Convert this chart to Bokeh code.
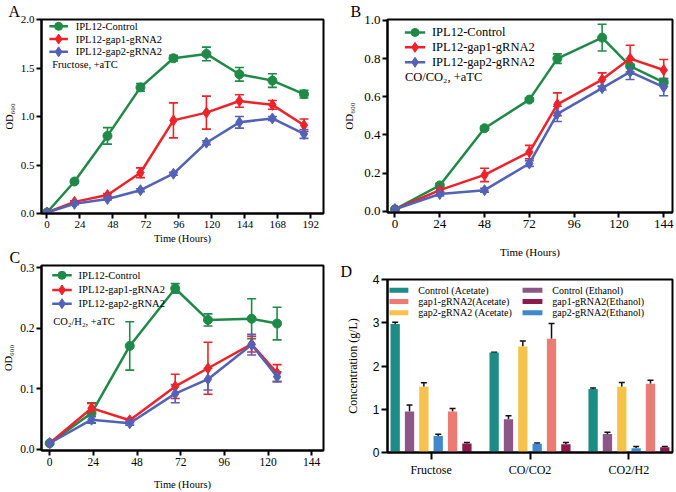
from bokeh.plotting import figure
from bokeh.models import (Range1d, FactorRange, FixedTicker, Whisker, TeeHead,
                          ColumnDataSource, NumeralTickFormatter)
from bokeh.layouts import row, column
from bokeh.transform import dodge
from bokeh.core.properties import value
from bokeh.embed import file_html
from bokeh.resources import INLINE

# ---------------- data ----------------
series_names = ["IPL12-Control", "IPL12-gap1-gRNA2", "IPL12-gap2-gRNA2"]

# Panel A (Fructose)
a_time = [0, 20, 44, 68, 92, 116, 140, 164, 187]
a_ctrl = [0.01, 0.33, 0.80, 1.30, 1.60, 1.645, 1.435, 1.37, 1.23]
a_ctrl_err = [0, 0.012, 0.085, 0.04, 0.03, 0.07, 0.07, 0.07, 0.04]
a_gap1 = [0.01, 0.12, 0.19, 0.42, 0.96, 1.04, 1.16, 1.12, 0.91]
a_gap1_err = [0, 0.01, 0.015, 0.05, 0.18, 0.17, 0.065, 0.045, 0.065]
a_gap2 = [0.01, 0.10, 0.15, 0.24, 0.41, 0.73, 0.94, 0.98, 0.82]
a_gap2_err = [0, 0.01, 0.01, 0.015, 0.015, 0.02, 0.06, 0.02, 0.045]

# Panel B (CO/CO2)
b_time = [0, 24, 48, 72, 87, 111, 126, 144]
b_ctrl = [0.01, 0.135, 0.435, 0.585, 0.80, 0.91, 0.76, 0.675]
b_ctrl_err = [0, 0.01, 0.01, 0.01, 0.025, 0.07, 0.04, 0.02]
b_gap1 = [0.01, 0.11, 0.19, 0.31, 0.56, 0.69, 0.80, 0.74]
b_gap1_err = [0, 0.01, 0.035, 0.035, 0.06, 0.035, 0.07, 0.055]
b_gap2 = [0.01, 0.09, 0.11, 0.25, 0.51, 0.645, 0.73, 0.65]
b_gap2_err = [0, 0.01, 0.01, 0.015, 0.04, 0.01, 0.04, 0.045]

# Panel C (CO2/H2)
c_time = [0, 23, 44, 69, 87, 111, 125]
c_ctrl = [0.01, 0.060, 0.171, 0.266, 0.214, 0.216, 0.208]
c_ctrl_err = [0, 0.017, 0.04, 0.008, 0.01, 0.033, 0.027]
c_gap1 = [0.01, 0.068, 0.048, 0.104, 0.134, 0.174, 0.126]
c_gap1_err = [0, 0.008, 0.003, 0.02, 0.043, 0.013, 0.014]
c_gap2 = [0.01, 0.049, 0.043, 0.092, 0.116, 0.173, 0.12]
c_gap2_err = [0, 0.005, 0.003, 0.015, 0.018, 0.017, 0.008]

# Panel D (products)
d_groups = ["Fructose", "CO/CO2", "CO2/H2"]
d_names = ["Control (Acetate)", "Control (Ethanol)", "gap2-gRNA2 (Acetate)",
           "gap2-gRNA2(Ethanol)", "gap1-gRNA2(Acetate)", "gap1-gRNA2(Ethanol)"]
d_ctrl_ac = [2.97, 2.31, 1.47]
d_ctrl_ac_err = [0.04, 0.01, 0.02]
d_ctrl_et = [0.95, 0.77, 0.43]
d_ctrl_et_err = [0.15, 0.08, 0.04]
d_gap2_ac = [1.52, 2.45, 1.52]
d_gap2_ac_err = [0.09, 0.13, 0.10]
d_gap2_et = [0.38, 0.20, 0.10]
d_gap2_et_err = [0.04, 0.02, 0.04]
d_gap1_ac = [0.95, 2.63, 1.59]
d_gap1_ac_err = [0.07, 0.35, 0.08]
d_gap1_et = [0.21, 0.19, 0.12]
d_gap1_et_err = [0.02, 0.04, 0.02]

# ---------------- styling ----------------
SERIF = "Liberation Serif"
SANS = "Liberation Sans"
LINE_COLORS = ["#1f8a47", "#ee2229", "#5361b6"]
MARKERS = ["circle", "diamond", "diamond"]
MSIZE = [9, 11, 11]
BAR_COLORS = ["#1b8c86", "#8a5787", "#f6c24c", "#3f89cb", "#ec7b74", "#8c1a4a"]


def conv(frame, xr, yr):
    L, T, R, B = frame
    def X(px):
        return xr[0] + (px - L) / (R - L) * (xr[1] - xr[0])
    def Y(py):
        return yr[1] - (py - T) / (B - T) * (yr[1] - yr[0])
    return X, Y


def base_fig(w, h, frame, xr, yr, letter, letter_x):
    L, T, R, B = frame
    p = figure(width=w, height=h, x_range=xr, y_range=yr,
               output_backend="svg", toolbar_location=None,
               min_border_left=L, min_border_top=T,
               min_border_right=w - R, min_border_bottom=h - B)
    p.grid.visible = False
    p.outline_line_color = "black"
    p.outline_line_width = 2
    p.outline_line_alpha = 1
    p.background_fill_color = "white"
    p.border_fill_color = "white"
    # panel letter as the plot title, pushed into the left border
    p.title.text = letter
    p.title.text_font = SERIF
    p.title.text_font_size = "16px"
    p.title.text_font_style = "normal"
    p.title.text_color = "black"
    p.title.text_line_height = 0.7
    p.title.align = "left"
    p.title.offset = letter_x - L
    p.title.standoff = 0
    return p


def style_axes(p, tick_font, tick_fs, label_fs, tick_out=5):
    for ax in p.axis:
        ax.axis_line_width = 2
        ax.axis_line_color = "black"
        ax.major_tick_line_width = 2
        ax.major_tick_line_color = "black"
        ax.major_tick_in = 0
        ax.major_tick_out = tick_out
        ax.minor_tick_line_color = None
        ax.major_label_text_font = tick_font
        ax.major_label_text_font_size = tick_fs
        ax.major_label_text_color = "black"
        ax.major_label_standoff = 2
        ax.axis_label_text_font = SERIF
        ax.axis_label_text_font_style = "normal"
        ax.axis_label_text_font_size = label_fs
        ax.axis_label_text_color = "black"


def line_panel(w, h, frame, xr, yr, xticks, yticks, time, ys, errs,
               tick_fs, label_fs, leg_fs, leg, cond_text, letter, letter_x,
               xlabel_standoff, ylabel_standoff):
    p = base_fig(w, h, frame, Range1d(*xr), Range1d(*yr), letter, letter_x)
    X, Y = conv(frame, xr, yr)
    p.xaxis.ticker = FixedTicker(ticks=xticks)
    p.yaxis.ticker = FixedTicker(ticks=yticks)
    p.yaxis.formatter = NumeralTickFormatter(format="0.0")
    p.xaxis.axis_label = "Time (Hours)"
    p.yaxis.axis_label = "OD\u2086\u2080\u2080"
    style_axes(p, SERIF, tick_fs, label_fs)
    p.xaxis.axis_label_standoff = xlabel_standoff
    p.yaxis.axis_label_standoff = ylabel_standoff

    for i in range(3):
        col = LINE_COLORS[i]
        xs = [t for t, e in zip(time, errs[i]) if e > 0]
        lo = [v - e for v, e in zip(ys[i], errs[i]) if e > 0]
        hi = [v + e for v, e in zip(ys[i], errs[i]) if e > 0]
        src = ColumnDataSource(dict(x=xs, lo=lo, hi=hi))
        wk = Whisker(source=src, base="x", lower="lo", upper="hi",
                     line_color=col, line_width=1.6, level="underlay",
                     upper_head=TeeHead(size=9, line_color=col, line_width=1.6),
                     lower_head=TeeHead(size=9, line_color=col, line_width=1.6))
        p.add_layout(wk)
    for i in range(3):
        col = LINE_COLORS[i]
        p.line(time, ys[i], line_color=col, line_width=2.5)
        p.scatter(time, ys[i], marker=MARKERS[i], size=MSIZE[i],
                  fill_color=col, line_color=col)

    # legend drawn in the frame
    gx0, gx1, tx, rows, cx, cy = leg
    for i in range(3):
        col = LINE_COLORS[i]
        yy = Y(rows[i])
        p.line([X(gx0), X(gx1)], [yy, yy], line_color=col, line_width=2.5)
        p.scatter([X((gx0 + gx1) / 2)], [yy], marker=MARKERS[i],
                  size=MSIZE[i] - 1, fill_color=col, line_color=col)
        p.text([X(tx)], [yy], text=[series_names[i]], text_font=value(SERIF),
               text_font_size=leg_fs, text_baseline="middle", text_align="left",
               text_color="black")
    p.text([X(cx)], [Y(cy)], text=[cond_text], text_font=value(SERIF),
           text_font_size=leg_fs, text_baseline="middle", text_align="left",
           text_color="black")
    return p


# Panel A
pA = line_panel(338, 246, (35, 16, 323, 214), (-4.0, 201.2), (0.0, 2.0),
                list(range(0, 193, 24)), [0, 0.5, 1.0, 1.5, 2.0],
                a_time, [a_ctrl, a_gap1, a_gap2], [a_ctrl_err, a_gap1_err, a_gap2_err],
                "11px", "10.5px", "10.5px",
                (43, 62, 70, [23, 36, 49], 46, 62), "Fructose, +aTC",
                "A", 2, 2, 3)

# Panel B
pB = line_panel(338, 260, (39, 18, 334, 212), (-4.0, 148.7), (-0.007, 1.005),
                list(range(0, 145, 24)), [0, 0.2, 0.4, 0.6, 0.8, 1.0],
                b_time, [b_ctrl, b_gap1, b_gap2], [b_ctrl_err, b_gap1_err, b_gap2_err],
                "13px", "11px", "12.5px",
                (57, 78, 85, [31, 46, 61], 57, 76), "CO/CO\u2082, +aTC",
                "B", 2, 15, 6)

# Panel C
pC = line_panel(338, 246, (34, 16, 323, 205), (-4.5, 150.5), (-0.002, 0.304),
                list(range(0, 145, 24)), [0, 0.1, 0.2, 0.3],
                c_time, [c_ctrl, c_gap1, c_gap2], [c_ctrl_err, c_gap1_err, c_gap2_err],
                "11.5px", "10.5px", "10.5px",
                (45, 65, 72, [26, 41, 55], 46, 73), "CO\u2082/H\u2082, +aTC",
                "C", 2, 10, 3)

# Panel D
d_frame = (49, 15, 336, 192)
d_pad = -0.04
half = len(d_groups) * d_pad / 2
d_xr = (0 - half, len(d_groups) + half)
d_yr = (0, 4)
pD = base_fig(338, 232, d_frame, FactorRange(factors=d_groups, range_padding=d_pad),
              Range1d(*d_yr), "D", 2)
XD, YD = conv(d_frame, d_xr, d_yr)
pD.yaxis.ticker = FixedTicker(ticks=[0, 1, 2, 3, 4])
pD.yaxis.axis_label = "Concentration (g/L)"
style_axes(pD, SERIF, "12px", "12px", tick_out=7)
pD.yaxis.major_label_text_font = SANS
pD.yaxis.major_label_text_font_size = "12px"
pD.yaxis.major_tick_out = 6
pD.yaxis.axis_label_standoff = 10
pD.xaxis.major_label_standoff = 3

d_vals = [d_ctrl_ac, d_ctrl_et, d_gap2_ac, d_gap2_et, d_gap1_ac, d_gap1_et]
d_errs = [d_ctrl_ac_err, d_ctrl_et_err, d_gap2_ac_err, d_gap2_et_err, d_gap1_ac_err, d_gap1_et_err]
step = 0.145
for i in range(6):
    off = (i - 2.5) * step
    src = ColumnDataSource(dict(g=d_groups, top=d_vals[i],
                                up=[v + e for v, e in zip(d_vals[i], d_errs[i])]))
    pD.add_layout(Whisker(source=src, base=dodge("g", off, range=pD.x_range),
                          lower="top", upper="up", line_color="#111111", line_width=1.5,
                          level="underlay", lower_head=None,
                          upper_head=TeeHead(size=6, line_color="#111111", line_width=1.5)))
    pD.vbar(x=dodge("g", off, range=pD.x_range), top="top", bottom=0, width=0.094,
            source=src, fill_color=BAR_COLORS[i], line_color=None)

# legend for D (two columns)
leg_cols = [(51, 70, 80), (185, 205, 215)]
leg_rows = [26, 37.5, 49]
leg_layout = [[0, 4, 2], [1, 5, 3]]
for c in range(2):
    x0, x1, tx = leg_cols[c]
    for r in range(3):
        k = leg_layout[c][r]
        yy = YD(leg_rows[r])
        pD.quad(left=[XD(x0)], right=[XD(x1)], top=[YD(leg_rows[r] - 2.5)],
                bottom=[YD(leg_rows[r] + 2.5)], fill_color=BAR_COLORS[k], line_color=None)
        pD.text([XD(tx)], [yy], text=[d_names[k]], text_font=value(SERIF),
                text_font_size="10px", text_baseline="middle", text_align="left",
                text_color="black")

layout = row(column(pA, pC), column(pB, pD))
open("out.html", "w").write(file_html(layout, INLINE))
